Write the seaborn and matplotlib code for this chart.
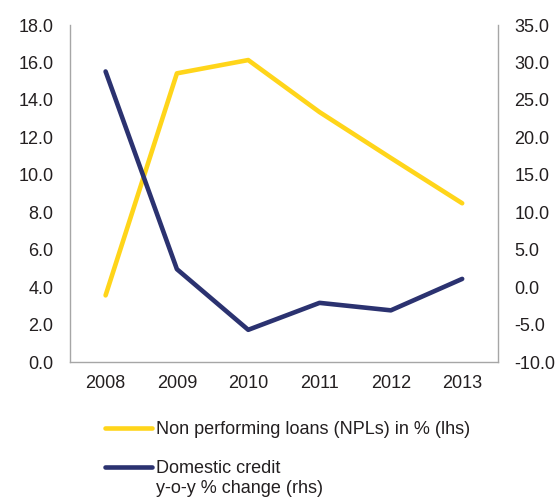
import matplotlib
matplotlib.use("Agg")
import matplotlib.pyplot as plt
import seaborn as sns
import pandas as pd
from matplotlib.ticker import FormatStrFormatter, MultipleLocator

years = ["2008", "2009", "2010", "2011", "2012", "2013"]
npl = [3.56, 15.42, 16.13, 13.35, 10.9, 8.48]
credit = [28.8, 2.4, -5.7, -2.1, -3.1, 1.1]

sns.set_theme(style="white")
plt.rcParams['font.family'] = ['Liberation Sans', 'DejaVu Sans']
FS = 13
TXT = "#231f20"
GRID = "#a6a6a6"
YEL = "#ffd51a"
NAVY = "#2b3270"

df = pd.DataFrame({"year": years, "npl": npl, "credit": credit})

fig = plt.figure(figsize=(5.55, 4.97), dpi=100)
ax = fig.add_axes([0.126, 0.2716, 0.771, 0.678])
ax2 = ax.twinx()

sns.lineplot(data=df, x="year", y="npl", ax=ax, color=YEL, linewidth=3.3,
             sort=False, label="Non performing loans (NPLs) in % (lhs)", legend=False)
sns.lineplot(data=df, x="year", y="credit", ax=ax2, color=NAVY, linewidth=3.3,
             sort=False, label="Domestic credit", legend=False)

ax.set_xlim(-0.5, 5.5)
ax.set_ylim(0, 18)
ax2.set_ylim(-10, 35)
ax.yaxis.set_major_locator(MultipleLocator(2))
ax2.yaxis.set_major_locator(MultipleLocator(5))
ax.yaxis.set_major_formatter(FormatStrFormatter("%.1f"))
ax2.yaxis.set_major_formatter(FormatStrFormatter("%.1f"))
ax.set_xlabel("")
ax.set_ylabel("")
ax2.set_ylabel("")

for a in (ax, ax2):
    for s in a.spines.values():
        s.set_visible(False)
    a.tick_params(length=0, labelsize=FS, colors=TXT, pad=12)
ax.spines["left"].set_visible(True)
ax.spines["bottom"].set_visible(True)
ax2.spines["right"].set_visible(True)
for sp in (ax.spines["left"], ax.spines["bottom"], ax2.spines["right"]):
    sp.set_color(GRID)
    sp.set_linewidth(1.0)
ax.tick_params(axis="x", pad=9)

h1, l1 = ax.get_legend_handles_labels()
h2, l2 = ax2.get_legend_handles_labels()
leg = fig.legend(h1 + h2, l1 + l2, loc="upper left", bbox_to_anchor=(0.189, 0.153),
                 frameon=False, fontsize=FS, handlelength=2.6, handletextpad=0.22,
                 labelspacing=1.24, borderaxespad=0, borderpad=0)
for t in leg.get_texts():
    t.set_color(TXT)
fig.text(0.281, 0.018, "y-o-y % change (rhs)", fontsize=FS, color=TXT, va="center", ha="left")

fig.savefig("out.png", dpi=100)
